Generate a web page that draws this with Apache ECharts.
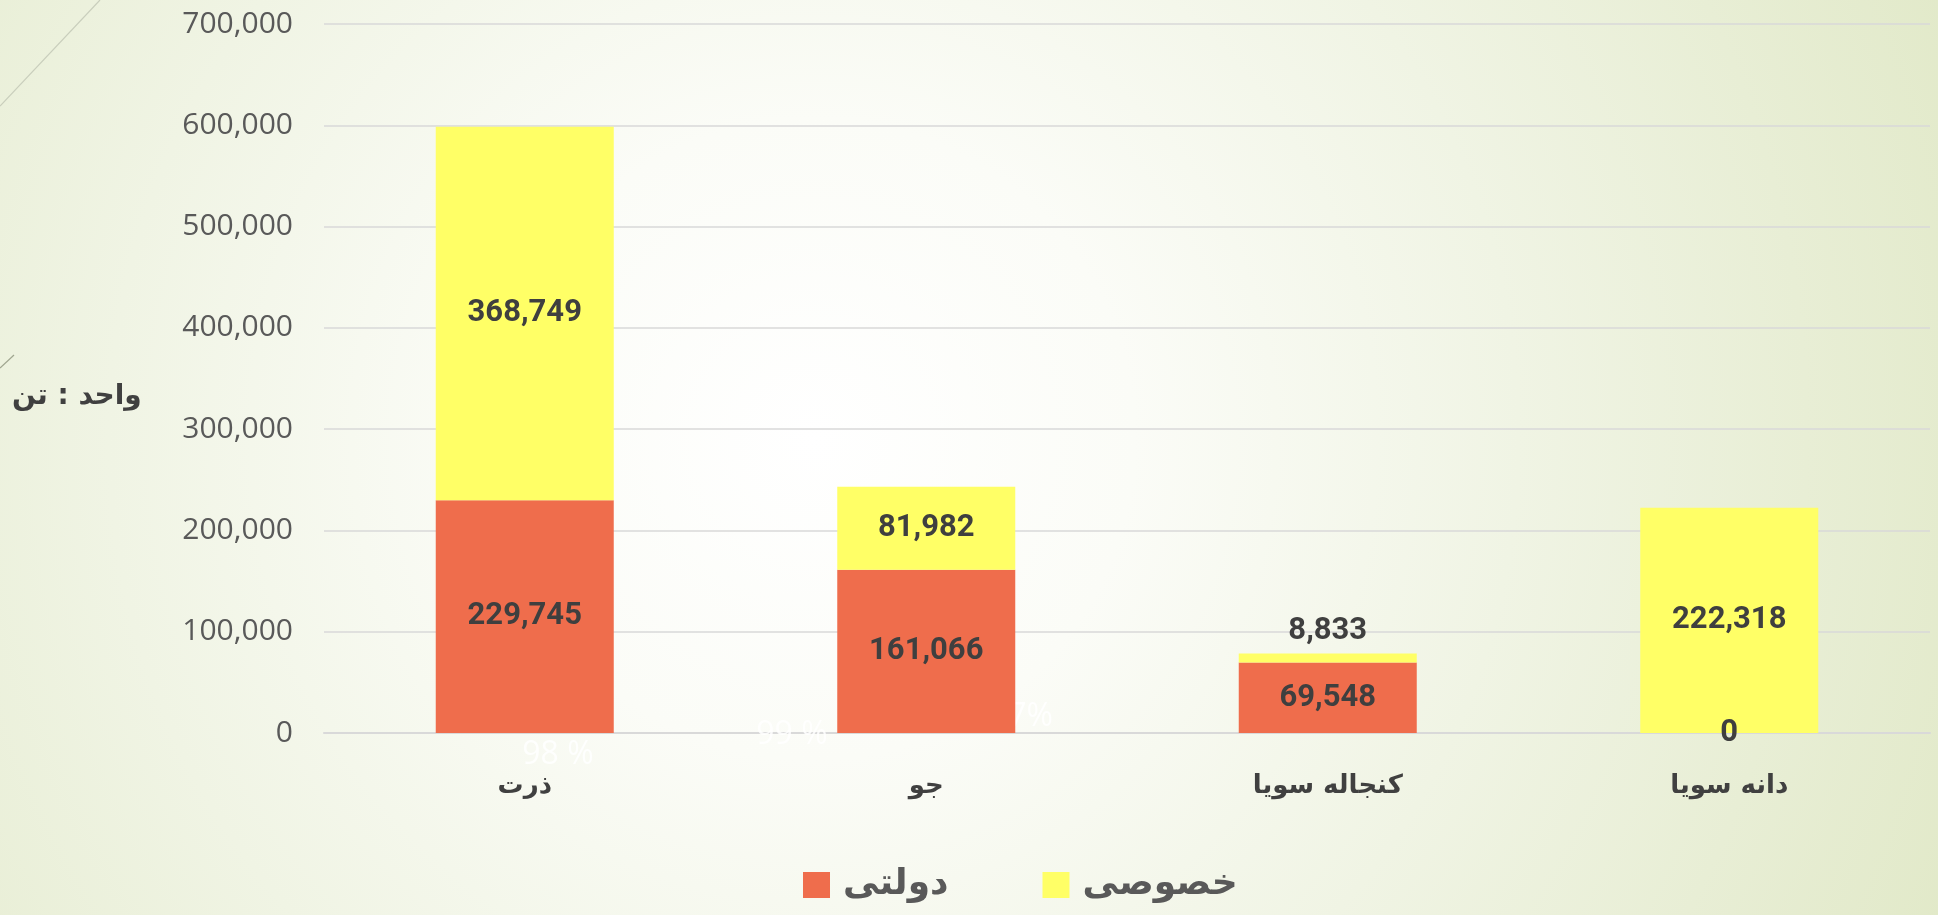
<!DOCTYPE html>
<html>
<head>
<meta charset="utf-8">
<style>
  html, body { margin: 0; padding: 0; }
  #chart { width: 1938px; height: 915px; }
</style>
<script src="https://cdn.jsdelivr.net/npm/echarts@6/dist/echarts.min.js"></script>
</head>
<body>
<div id="chart"></div>
<script>
  // داده‌ها
  var categories = ['ذرت', 'جو', 'کنجاله سویا', 'دانه سویا'];
  var dolati = [229745, 161066, 69548, 0];
  var khosusi = [368749, 81982, 8833, 222318];
  var seriesNames = ['دولتی', 'خصوصی'];
  var yTicks = [0, 100000, 200000, 300000, 400000, 500000, 600000, 700000];

  var fmt = function (v) { return Number(v).toLocaleString('en-US'); };

  // small segments get their label above the bar
  function withLabels(arr) {
    return arr.map(function (v) {
      if (v > 0 && v < 20000) {
        return { value: v, label: { position: 'top', distance: 7 } };
      }
      return v;
    });
  }

  var labelStyle = {
    show: true,
    position: 'inside',
    formatter: function (p) { return fmt(p.value); },
    color: '#3F3F3F',
    fontFamily: 'Roboto',
    fontWeight: 'bold',
    fontSize: 31
  };

  // faint leftover percentage texts (white)
  var ghost = function (txt, x, y, align) {
    return {
      type: 'text', x: x, y: y, z: 1, silent: true,
      style: {
        text: txt, fill: 'rgba(255,255,255,0.85)', align: align, verticalAlign: 'middle',
        font: '32px "Open Sans"'
      }
    };
  };

  var myChart = echarts.init(document.getElementById('chart'));
  myChart.setOption({
    backgroundColor: {
      type: 'radial', x: 0.42, y: 0.48, r: 1.4,
      colorStops: [
        { offset: 0, color: '#FFFFFF' },
        { offset: 0.25, color: '#FBFCF7' },
        { offset: 0.55, color: '#F0F4E4' },
        { offset: 1, color: '#E0E8C6' }
      ]
    },
    animation: false,
    grid: { left: 324, right: 8, top: 24, bottom: 182 },
    legend: {
      top: 862,
      left: 798,
      icon: 'rect',
      itemWidth: 27,
      itemHeight: 26,
      itemGap: 94,
      data: seriesNames,
      textStyle: {
        color: '#595959',
        fontFamily: 'DejaVu Sans',
        fontWeight: 'bold',
        fontSize: 36,
        padding: [0, 0, 0, 8]
      }
    },
    graphic: [
      {
        type: 'text', left: 12, top: 383,
        style: {
          text: 'واحد : تن', fill: '#404040',
          font: 'bold 28px "DejaVu Sans"'
        }
      },
      {
        type: 'line', silent: true,
        shape: { x1: 0, y1: 106, x2: 100, y2: 0 },
        style: { stroke: '#C9CEBC', lineWidth: 1.2 }
      },
      {
        type: 'line', silent: true,
        shape: { x1: 0, y1: 368, x2: 14, y2: 355 },
        style: { stroke: '#9FA58F', lineWidth: 1.2 }
      },
      ghost('98 %', 558, 755, 'center'),
      ghost('99 %', 792, 735, 'center'),
      ghost('97%', 1053, 717, 'right')
    ],
    xAxis: {
      type: 'category',
      data: categories,
      axisTick: { show: false },
      axisLine: { lineStyle: { color: '#D9D9D9', width: 2 } },
      axisLabel: {
        margin: 40,
        color: '#404040',
        fontFamily: 'DejaVu Sans',
        fontWeight: 'bold',
        fontSize: 26
      }
    },
    yAxis: {
      type: 'value',
      min: yTicks[0],
      max: yTicks[yTicks.length - 1],
      interval: 100000,
      axisLine: { show: false },
      axisTick: { show: false },
      splitLine: { lineStyle: { color: '#D9D9D9', width: 1.5 } },
      axisLabel: {
        margin: 31,
        color: '#595959',
        fontFamily: 'Open Sans',
        fontSize: 30,
        formatter: function (v) { return fmt(v); }
      }
    },
    series: [
      {
        name: seriesNames[0],
        type: 'bar',
        stack: 'total',
        barWidth: 178,
        z: 3,
        itemStyle: { color: '#EF6D4C' },
        label: labelStyle,
        data: withLabels(dolati)
      },
      {
        name: seriesNames[1],
        type: 'bar',
        stack: 'total',
        barWidth: 178,
        z: 3,
        itemStyle: { color: '#FFFF66' },
        label: labelStyle,
        data: withLabels(khosusi)
      }
    ]
  });
</script>
</body>
</html>
